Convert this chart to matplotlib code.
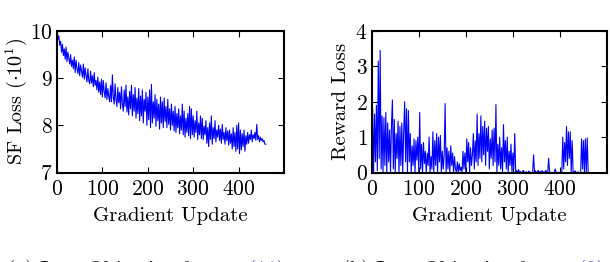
import matplotlib

matplotlib.use("Agg")
import matplotlib.pyplot as plt
import numpy as np

# every 2 gradient updates
STEP = 2

sf_loss = [
    10.0, 9.82, 9.9, 9.7, 9.78, 9.55, 9.72, 9.48, 9.62, 9.4,
    9.66, 9.35, 9.55, 9.42, 9.3, 9.5, 9.25, 9.38, 9.2, 9.45,
    9.12, 9.38, 9.2, 9.1, 9.33, 9.05, 9.28, 9.15, 9.02, 9.3,
    8.98, 9.22, 9.05, 8.92, 9.2, 8.95, 8.88, 9.15, 8.9, 9.05,
    8.82, 9.12, 8.85, 8.95, 8.75, 9.02, 8.7, 8.92, 8.65, 8.98,
    8.6, 8.95, 8.72, 8.58, 8.9, 8.55, 8.78, 8.62, 8.5, 8.85,
    8.5, 9.07, 8.6, 8.45, 8.88, 8.55, 8.4, 8.8, 8.48, 8.7,
    8.35, 8.82, 8.45, 8.3, 8.75, 8.4, 8.85, 8.28, 8.6, 8.22,
    8.72, 8.35, 8.85, 8.2, 8.65, 8.3, 8.8, 8.15, 8.58, 8.25,
    8.78, 8.1, 8.62, 8.2, 8.75, 8.05, 8.55, 8.3, 8.7, 8.0,
    8.6, 8.12, 8.75, 7.95, 8.87, 8.05, 8.5, 8.15, 8.65, 7.98,
    8.55, 8.1, 8.45, 7.92, 8.6, 8.05, 8.5, 7.95, 8.58, 8.08,
    8.4, 7.95, 8.55, 8.02, 8.35, 7.9, 8.45, 8.0, 8.3, 7.88,
    8.4, 7.85, 8.25, 7.95, 8.35, 7.82, 8.2, 7.9, 8.45, 7.8,
    8.3, 7.75, 8.15, 7.85, 8.25, 7.78, 8.4, 7.72, 8.35, 7.8,
    8.2, 7.75, 8.1, 7.85, 8.3, 7.7, 8.05, 7.8, 8.2, 7.72,
    8.15, 7.7, 7.98, 7.8, 8.1, 7.62, 7.95, 7.55, 8.05, 7.7,
    8.2, 7.6, 7.95, 7.72, 8.1, 7.65, 7.9, 7.75, 8.0, 7.68,
    7.92, 7.62, 8.02, 7.7, 7.85, 7.6, 7.95, 7.68, 7.88, 7.58,
    7.9, 7.62, 7.82, 7.5, 7.95, 7.55, 7.85, 7.45, 8.0, 7.5,
    8.05, 7.4, 7.9, 7.48, 7.82, 7.55, 7.9, 7.45, 7.78, 7.6,
    7.85, 7.62, 7.8, 7.7, 7.9, 7.65, 7.8, 7.72, 7.85, 7.68,
    8.02, 7.7, 7.78, 7.65, 7.75, 7.68, 7.72, 7.65, 7.68, 7.6,
    7.6,
]

reward_loss = [
    0.2, 1.8, 0.0, 1.65, 0.3, 1.9, 0.05, 3.15, 0.4, 3.45,
    0.1, 1.6, 0.0, 1.55, 0.2, 1.7, 0.0, 1.4, 0.3, 1.2,
    0.0, 1.35, 2.05, 0.1, 1.5, 0.0, 1.1, 0.4, 1.45, 0.0,
    1.3, 0.2, 1.4, 0.0, 1.15, 2.0, 0.3, 1.8, 0.0, 1.75,
    0.3, 1.1, 0.0, 0.75, 0.2, 0.95, 0.0, 0.9, 0.35, 1.0,
    0.0, 1.7, 0.1, 0.8, 0.0, 0.85, 0.25, 0.6, 0.0, 0.55,
    0.2, 1.0, 0.0, 0.45, 0.1, 1.15, 0.0, 0.9, 0.2, 1.1,
    0.0, 1.0, 0.3, 1.05, 0.0, 0.6, 0.1, 0.5, 1.95, 0.0,
    0.7, 0.1, 0.6, 0.0, 0.75, 0.2, 0.55, 0.0, 0.45, 0.1,
    0.0, 0.3, 0.0, 0.25, 0.05, 0.15, 0.0, 0.6, 0.1, 0.55,
    0.0, 0.95, 0.3, 0.85, 0.0, 0.7, 0.2, 0.5, 1.1, 0.1,
    0.9, 0.3, 1.65, 0.2, 1.1, 0.4, 1.6, 0.3, 1.3, 0.5,
    1.45, 0.2, 1.25, 0.6, 1.3, 0.1, 0.95, 0.4, 1.2, 0.2,
    1.25, 0.3, 1.92, 0.0, 0.8, 0.2, 1.0, 0.1, 0.7, 0.0,
    1.35, 0.3, 0.9, 0.1, 1.0, 0.0, 0.6, 0.2, 0.8, 0.0,
    0.55, 0.1, 1.1, 0.0, 0.05, 0.0, 0.08, 0.0, 0.03, 0.0,
    0.0, 0.06, 0.0, 0.0, 0.02, 0.0, 0.0, 0.04, 0.0, 0.0,
    0.0, 0.0, 0.5, 0.0, 0.05, 0.0, 0.0, 0.06, 0.0, 0.03,
    0.0, 0.05, 0.0, 0.02, 0.0, 0.06, 0.0, 0.0, 0.4, 0.0,
    0.0, 0.0, 0.0, 0.0, 0.0, 0.1, 0.0, 0.0, 0.0, 0.0,
    0.0, 0.0, 0.0, 1.0, 0.1, 0.85, 0.3, 1.3, 0.2, 1.15,
    0.4, 1.15, 0.0, 0.9, 0.0, 0.0, 0.05, 0.0, 0.0, 0.02,
    0.0, 0.0, 0.0, 0.95, 0.1, 0.9, 0.0, 0.95, 0.0, 0.98,
    0.0,
]

x_ticks = [0, 100, 200, 300, 400]
sf_ticks = [7, 8, 9, 10]
reward_ticks = [0, 1, 2, 3, 4]

plt.rcParams["font.family"] = ["cmr10", "DejaVu Serif"]
plt.rcParams["mathtext.fontset"] = "cm"
plt.rcParams["axes.unicode_minus"] = False
plt.rcParams["axes.formatter.use_mathtext"] = True
FS = 15
TICK_FS = 15.5

fig = plt.figure(figsize=(6.1, 2.62), dpi=100)
W, H = 610, 262


def px_axes(l, t, r, b):
    return fig.add_axes([l / W, 1 - b / H, (r - l) / W, (b - t) / H])


def style(ax, yticks, ylim):
    ax.set_xlim(0, 500)
    ax.set_ylim(*ylim)
    ax.set_xticks(x_ticks)
    ax.set_yticks(yticks)
    ax.tick_params(direction="in", top=True, right=True, length=4, width=0.8,
                   labelsize=TICK_FS)
    ax.tick_params(axis="x", pad=5)
    ax.tick_params(axis="y", pad=3)
    for s in ax.spines.values():
        s.set_linewidth(1.5)
    ax.set_xlabel("Gradient Update", fontsize=FS, labelpad=6)


ax1 = px_axes(57, 31, 284, 172.5)
steps1 = np.arange(len(sf_loss)) * STEP
ax1.plot(steps1, sf_loss, color="#0000ff", lw=0.8)
style(ax1, sf_ticks, (7, 10))
ax1.set_ylabel(r"SF Loss $(\cdot 10^1)$", fontsize=14.5, labelpad=1)

ax2 = px_axes(371.7, 31, 607, 172.5)
steps2 = np.arange(len(reward_loss)) * STEP
ax2.plot(steps2, reward_loss, color="#0000ff", lw=0.8)
style(ax2, reward_ticks, (0, 4))
ax2.set_ylabel("Reward Loss", fontsize=FS, labelpad=4)

# sub-captions, cut off by the bottom edge as in the source page
CAP_Y = 1.8 / H
fig.text(7 / W, CAP_Y, "(a) Loss Objective for", fontsize=15, va="top")
fig.text(248 / W, CAP_Y, "(11)", fontsize=15, va="top", color="#3333aa")
fig.text(342 / W, CAP_Y, "(b) Loss Objective for", fontsize=15, va="top")
fig.text(578 / W, CAP_Y, "(9)", fontsize=15, va="top", color="#3333aa")

fig.savefig("out.png", dpi=100)
